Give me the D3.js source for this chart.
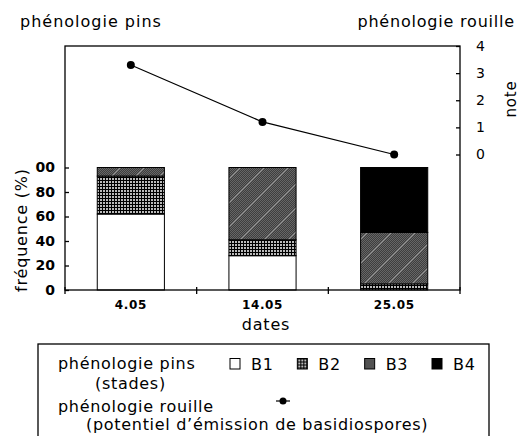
<!DOCTYPE html>
<html>
<head>
<meta charset="utf-8">
<script src="https://cdn.jsdelivr.net/npm/d3@7"></script>
<style>
  body { margin: 0; background: #fff; }
  text { font-family: "DejaVu Sans", sans-serif; fill: #000; }
</style>
</head>
<body>
<div id="chart"></div>
<script>
// data
const dates = ['4.05', '14.05', '25.05'];
const stages = ['B1', 'B2', 'B3', 'B4'];
const b1 = [62, 28, 0];
const b2 = [31, 13, 5];
const b3 = [7, 59, 42];
const b4 = [0, 0, 53];
const note = [3.3, 1.2, 0];
const freqTicks = [0, 20, 40, 60, 80, 100];
const freqLabels = ['0', '20', '40', '60', '80', '00'];
const noteTicks = [0, 1, 2, 3, 4];

const W = 522, H = 436;
const plotL = 65, plotR = 460, plotT = 46, plotB = 290;

const svg = d3.select('#chart').append('svg')
    .attr('width', W)
    .attr('height', H);

svg.append('rect').attr('width', W).attr('height', H).attr('fill', '#fff');

// hatch patterns
const defs = svg.append('defs');
const p2 = defs.append('pattern').attr('id', 'pB2')
    .attr('width', 3).attr('height', 3).attr('patternUnits', 'userSpaceOnUse');
p2.append('rect').attr('width', 3).attr('height', 3).attr('fill', '#bbb');
p2.append('rect').attr('width', 3).attr('height', 1).attr('fill', '#000');
p2.append('rect').attr('width', 1).attr('height', 3).attr('fill', '#000');

const p3 = defs.append('pattern').attr('id', 'pB3')
    .attr('width', 24).attr('height', 24).attr('patternUnits', 'userSpaceOnUse');
p3.append('rect').attr('width', 24).attr('height', 24).attr('fill', '#666');
for (let k = -24; k <= 24; k += 2) {
    p3.append('line')
        .attr('x1', k).attr('y1', 24).attr('x2', k + 24).attr('y2', 0)
        .attr('stroke', '#333').attr('stroke-width', 0.8);
}
p3.append('line').attr('x1', 0).attr('y1', 24).attr('x2', 24).attr('y2', 0)
    .attr('stroke', '#bbb').attr('stroke-width', 0.7);

const fills = {B1: '#fff', B2: 'url(#pB2)', B3: 'url(#pB3)', B4: '#000'};

// scales
const x = d3.scaleBand().domain(dates).range([plotL, plotR])
    .paddingInner(0.49).paddingOuter(0.245);
const yFreq = d3.scaleLinear().domain([0, 100]).range([plotB, 167.5]);
const yNote = d3.scaleLinear().domain([0, 4]).range([154.5, plotT]);

// bars
const rows = dates.map((d, i) => ({date: d, B1: b1[i], B2: b2[i], B3: b3[i], B4: b4[i]}));
const series = d3.stack().keys(stages)(rows);

svg.append('g')
    .selectAll('g')
    .data(series)
    .join('g')
        .attr('fill', s => fills[s.key])
    .selectAll('rect')
    .data(s => s.filter(d => d[1] - d[0] > 0))
    .join('rect')
        .attr('x', d => x(d.data.date))
        .attr('y', d => yFreq(d[1]))
        .attr('width', x.bandwidth())
        .attr('height', d => yFreq(d[0]) - yFreq(d[1]))
        .attr('stroke', '#000')
        .attr('stroke-width', 1);

// frame
svg.append('rect')
    .attr('x', plotL).attr('y', plotT)
    .attr('width', plotR - plotL).attr('height', plotB - plotT)
    .attr('fill', 'none').attr('stroke', '#000').attr('stroke-width', 1.3);

// left axis
const gl = svg.append('g').attr('transform', `translate(${plotL},0)`)
    .call(d3.axisLeft(yFreq).tickValues(freqTicks)
        .tickFormat((d, i) => freqLabels[i])
        .tickSizeInner(-4).tickSizeOuter(0).tickPadding(10));
gl.select('.domain').remove();
gl.selectAll('text').style('font-size', '14px').style('font-weight', 'bold');
gl.selectAll('line').attr('stroke-width', 1.3);

// right axis
const gr = svg.append('g').attr('transform', `translate(${plotR},0)`)
    .call(d3.axisRight(yNote).tickValues(noteTicks).tickFormat(d3.format('d'))
        .tickSizeInner(-4).tickSizeOuter(0).tickPadding(16));
gr.select('.domain').remove();
gr.selectAll('text').style('font-size', '14px');
gr.selectAll('line').attr('stroke-width', 1.3);

// bottom axis
const gb = svg.append('g').attr('transform', `translate(0,${plotB})`)
    .call(d3.axisBottom(x).tickSize(0).tickPadding(10));
gb.select('.domain').remove();
gb.selectAll('text').style('font-size', '12px').style('font-weight', 'bold')
    .style('letter-spacing', '0.6px');

const bounds = dates.map(d => x(d) + x.bandwidth() / 2 - x.step() / 2);
bounds.push(bounds[bounds.length - 1] + x.step());
svg.append('g')
    .selectAll('line')
    .data(bounds)
    .join('line')
        .attr('x1', d => d).attr('x2', d => d)
        .attr('y1', plotB - 3).attr('y2', plotB + 4)
        .attr('stroke', '#000').attr('stroke-width', 1.3);

// note line
const line = d3.line()
    .x((d, i) => x(dates[i]) + x.bandwidth() / 2)
    .y(d => yNote(d));

svg.append('path')
    .datum(note)
    .attr('d', line)
    .attr('fill', 'none')
    .attr('stroke', '#000')
    .attr('stroke-width', 1.2);

svg.append('g')
    .selectAll('circle')
    .data(note)
    .join('circle')
        .attr('cx', (d, i) => x(dates[i]) + x.bandwidth() / 2)
        .attr('cy', d => yNote(d))
        .attr('r', 4)
        .attr('fill', '#000');

// titles
svg.append('text').attr('x', 20).attr('y', 27)
    .style('font-size', '16px').style('letter-spacing', '1px')
    .text('phénologie pins');
svg.append('text').attr('x', 515).attr('y', 27).attr('text-anchor', 'end')
    .style('font-size', '16px').style('letter-spacing', '0.8px')
    .text('phénologie rouille');

svg.append('text').attr('x', 266).attr('y', 330).attr('text-anchor', 'middle')
    .style('font-size', '16px').style('letter-spacing', '0.8px')
    .text('dates');

svg.append('text')
    .attr('transform', 'translate(27,230) rotate(-90)')
    .attr('text-anchor', 'middle')
    .style('font-size', '16px').style('letter-spacing', '0.8px')
    .text('fréquence (%)');

svg.append('text')
    .attr('transform', 'translate(516,99) rotate(-90)')
    .attr('text-anchor', 'middle')
    .style('font-size', '15px').style('letter-spacing', '0.8px')
    .text('note');

// legend
const lg = svg.append('g');
lg.append('rect')
    .attr('x', 38).attr('y', 344).attr('width', 451).attr('height', 110)
    .attr('fill', '#fff').attr('stroke', '#000').attr('stroke-width', 1.3);

const legText = (tx, ty, s) => lg.append('text').attr('x', tx).attr('y', ty)
    .style('font-size', '16px').style('letter-spacing', '0.7px').text(s);
legText(58, 369, 'phénologie pins');
legText(95, 389, '(stades)');
legText(58, 412, 'phénologie rouille');
legText(86, 430, '(potentiel d\u2019émission de basidiospores)');

const legX = d3.scalePoint().domain(stages).range([230, 432]);
const items = lg.selectAll('g.item')
    .data(stages)
    .join('g')
        .attr('class', 'item')
        .attr('transform', d => `translate(${legX(d)},358.5)`);
items.append('rect')
    .attr('width', 10).attr('height', 10.5)
    .attr('fill', d => fills[d])
    .attr('stroke', '#000').attr('stroke-width', 1);
items.append('text')
    .attr('x', 21).attr('y', 11)
    .style('font-size', '16px').style('letter-spacing', '0.7px')
    .text(d => d);

lg.append('line').attr('x1', 276).attr('x2', 290).attr('y1', 401).attr('y2', 401)
    .attr('stroke', '#000').attr('stroke-width', 1.2);
lg.append('circle').attr('cx', 283).attr('cy', 401).attr('r', 3.5).attr('fill', '#000');
</script>
</body>
</html>
